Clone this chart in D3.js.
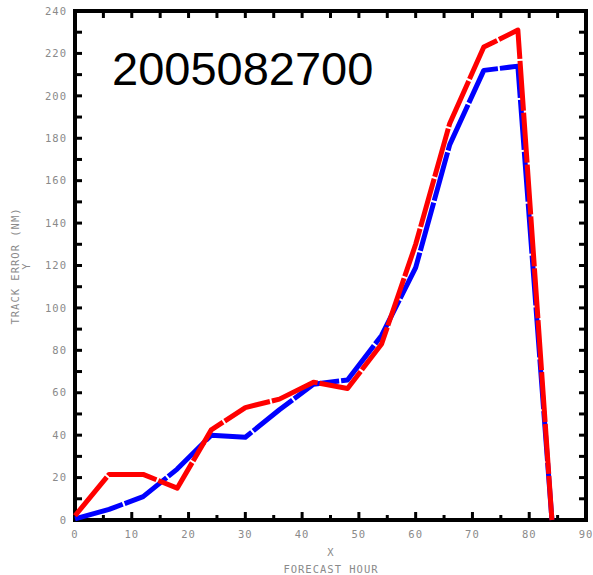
<!DOCTYPE html>
<html>
<head>
<meta charset="utf-8">
<script src="https://d3js.org/d3.v7.min.js"></script>
<style>
	body { margin: 0; background: #fff; }
	svg { display: block; }
	.tick-label { font-family: "DejaVu Sans Mono", monospace; font-size: 10.5px; fill: #8a8a8a; letter-spacing: 1px; font-feature-settings: "zero" 1; }
</style>
</head>
<body>
<svg width="593" height="575"></svg>
<script>
// forecast hours and track errors (NM)
var hours = [0, 6, 12, 18, 24, 30, 36, 42, 48, 54, 60, 66, 72, 78, 84];
var blueErr = [0.5, 5, 11, 24, 40, 39, 52, 64, 66, 87, 119, 177, 212, 214, 0];
var redErr = [2, 21.5, 21.5, 15, 42.5, 53, 57, 65, 62, 83, 130, 187, 223, 231, 0];

var xTicks = [0, 10, 20, 30, 40, 50, 60, 70, 80, 90];
var yTicks = [0, 20, 40, 60, 80, 100, 120, 140, 160, 180, 200, 220, 240];
var title = "2005082700";

var svg = d3.select("svg");

var x = d3.scaleLinear().domain([0, 90]).range([75, 586]);
var y = d3.scaleLinear().domain([0, 240]).range([520, 11]);

// tick marks on all four sides
var minorX = d3.range(0, 91, 5);
var minorY = d3.range(0, 241, 10);

var ticks = svg.append("g").attr("stroke", "#000").attr("stroke-width", 3);

ticks.selectAll(".bt")
	.data(minorX)
	.enter().append("line")
	.attr("x1", function(d) { return x(d); })
	.attr("x2", function(d) { return x(d); })
	.attr("y1", y(0))
	.attr("y2", function(d) { return y(0) - (d % 10 == 0 ? 8 : 5); });

ticks.selectAll(".tt")
	.data(minorX)
	.enter().append("line")
	.attr("x1", function(d) { return x(d); })
	.attr("x2", function(d) { return x(d); })
	.attr("y1", y(240))
	.attr("y2", y(240) + 7);

ticks.selectAll(".lt")
	.data(minorY)
	.enter().append("line")
	.attr("x1", x(0))
	.attr("x2", x(0) + 7)
	.attr("y1", function(d) { return y(d); })
	.attr("y2", function(d) { return y(d); });

ticks.selectAll(".rt")
	.data(minorY)
	.enter().append("line")
	.attr("x1", x(90))
	.attr("x2", x(90) - 7)
	.attr("y1", function(d) { return y(d); })
	.attr("y2", function(d) { return y(d); });

// frame
svg.append("rect")
	.attr("x", x(0))
	.attr("y", y(240))
	.attr("width", x(90) - x(0))
	.attr("height", y(0) - y(240))
	.attr("fill", "none")
	.attr("stroke", "#000")
	.attr("stroke-width", 4);

// tick labels
svg.selectAll(".xl")
	.data(xTicks)
	.enter().append("text")
	.attr("class", "tick-label")
	.attr("x", function(d) { return x(d); })
	.attr("y", 538)
	.attr("text-anchor", "middle")
	.text(function(d) { return d; });

svg.selectAll(".yl")
	.data(yTicks)
	.enter().append("text")
	.attr("class", "tick-label")
	.attr("x", 67)
	.attr("y", function(d) { return y(d); })
	.attr("dy", "0.35em")
	.attr("text-anchor", "end")
	.text(function(d) { return d; });

// axis titles
svg.append("text").attr("class", "tick-label")
	.attr("x", 331).attr("y", 556).attr("text-anchor", "middle").text("X");
svg.append("text").attr("class", "tick-label")
	.attr("x", 331).attr("y", 573).attr("text-anchor", "middle").text("FORECAST HOUR");
svg.append("text").attr("class", "tick-label")
	.attr("transform", "translate(19,266) rotate(-90)").attr("text-anchor", "middle").text("TRACK ERROR (NM)");
svg.append("text").attr("class", "tick-label")
	.attr("transform", "translate(30,266) rotate(-90)").attr("text-anchor", "middle").text("Y");

// the two error lines, red on top
var line = d3.line()
	.x(function(d, i) { return x(hours[i]); })
	.y(function(d) { return y(d); });

[[blueErr, "#0000ff"], [redErr, "#ff0000"]].forEach(function(s) {
	svg.append("path")
		.datum(s[0])
		.attr("d", line)
		.attr("fill", "none")
		.attr("stroke", s[1])
		.attr("stroke-width", 5)
		.attr("stroke-linejoin", "round")
		.attr("stroke-dasharray", "50,2");
});

// date title
svg.append("text")
	.attr("x", 112)
	.attr("y", 85)
	.attr("font-family", "Liberation Sans, Arial, sans-serif")
	.attr("font-size", 47)
	.attr("fill", "#000")
	.text(title);
</script>
</body>
</html>
